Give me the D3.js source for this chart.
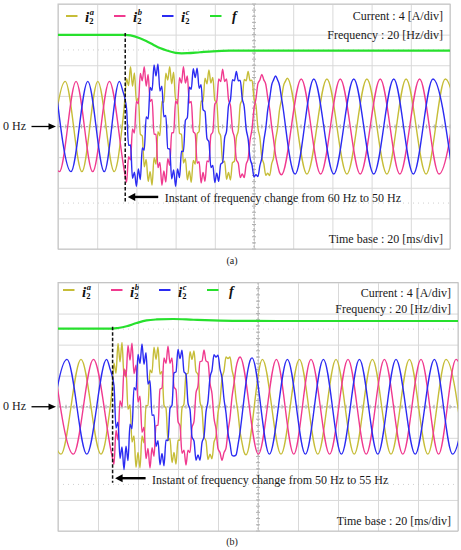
<!DOCTYPE html>
<html><head><meta charset="utf-8">
<script src="https://cdn.jsdelivr.net/npm/d3@7"></script>
<style>body{margin:0;background:#fff}svg{display:block}</style>
</head><body>
<svg id="c" width="461" height="550"></svg>
<script>
// ---------- DATA ----------
const timeTicks = [0,20,40,60,80,100,120,140,160,180,200];      // ms, 20 ms/div
const currentTicks = [-16,-12,-8,-4,0,4,8,12,16];                // A, 4 A/div
const freqTicks = [-80,-60,-40,-20,0,20,40,60,80];               // Hz, 20 Hz/div
const seriesKeys = ["a","b","c"];
const seriesColors = {a:"#c6bd38", b:"#f03a8f", c:"#2b2bf2", f:"#27e02d"};
const burstStep = 1; // ms between samples of the disturbed (noisy) part

// ---- Panel (a) : currents [ms, A] ----
const panelA_ia_pre  = [[-4.6,-5.9],[3.7,5.9],[12.2,-5.9],[20.3,5.9],[28.7,-5.9],[30.4,-4.6],[32.1,-1.4],[33.8,2.6]];
const panelA_ia_burstStart = 35;
const panelA_ia_burst = [6.25,5.35,7.8,5.27,6.99,3.26,3.74,-1.0,-1.24,-5.26,-4.29,-7.17,-5.9,-7.66,-4.07,-4.92,-0.67,-1.2,3.27,3.12,
 6.97,6.06,7.8,5.57,7.09,3.46,3.54,-0.9,-1.04,-4.76,-4.19,-6.97,-5.8,-7.28,-4.42,-4.92,-0.94,-0.65,3.34,3.22,
 6.32,5.58,7.4,5.68,6.42,3.42,3.14,-0.65,-1.24,-4.72,-4.52,-6.88,-6.0,-6.98,-4.73,-4.54,-1.48,-0.5,2.88,3.54,
 6.13,5.98,7.2,5.98,6.05,3.68,2.75,-0.2,-1.45,-4.08,-4.85,-6.38,-6.1,-6.4,-4.89,-4.03,-1.77,-0.25,2.12,3.48,
 5.24,5.9,6.3];
const panelA_ia_post = [[127,-6.2],[137.2,6.2],[147.4,-6.2],[157.6,6.2],[167.8,-6.2],[177.6,6.2],[187.8,-6.2],[197.6,6.2],[207.6,-6.2]];

const panelA_ib_pre  = [[-7.6,5.9],[0.7,-5.9],[9.2,5.9],[17.7,-5.9],[26.2,5.9],[34.2,-6.3]];
const panelA_ib_burstStart = 35;
const panelA_ib_burst = [-7.28,-3.94,-4.36,-0.31,-0.85,3.31,2.96,6.94,5.98,7.8,5.27,6.79,3.26,3.54,-1.0,-1.04,-5.36,-4.69,-7.67,-5.8,
 -7.27,-4.19,-5.06,-0.84,-0.8,3.34,2.96,6.39,5.67,7.8,5.67,6.6,3.08,3.27,-0.65,-0.97,-4.78,-4.6,-7.37,-6.0,
 -7.17,-4.51,-4.6,-1.11,-0.7,2.91,3.3,6.21,5.87,7.5,5.88,6.22,3.52,2.74,-0.45,-1.44,-4.32,-4.82,-6.68,-6.2,
 -6.68,-4.95,-4.23,-1.75,-0.3,2.35,3.63,5.6,6.08,6.8,6.09,5.52,3.79,2.25,0.05,-1.75,-3.74,-4.97,-5.99,-6.3];
const panelA_ib_post = [[124.1,6.2],[134,-6.2],[144,6.2],[154.2,-6.2],[164.4,6.2],[174.4,-6.2],[184.5,6.2],[194.4,-6.2],[204.4,6.2]];

const panelA_ic_pre  = [[-1.5,5.9],[6.6,-5.9],[15.2,5.9],[23.6,-5.9],[31.3,5.9],[33.0,4.69]];
const panelA_ic_burstStart = 35;
const panelA_ic_burst = [2.28,-2.47,-2.42,-6.76,-5.98,-7.8,-5.55,-6.92,-2.81,-3.1,1.25,1.0,5.11,4.72,8.05,6.6,8.16,4.64,5.25,1.27,
 1.45,-2.87,-2.95,-6.84,-5.66,-7.8,-5.56,-6.67,-3.22,-3.27,0.8,1.17,5.12,4.87,7.56,6.4,7.62,5.0,5.45,2.2,
 1.97,-1.57,-2.0,-5.35,-5.1,-7.32,-6.1,-7.17,-4.91,-4.7,-1.51,-0.6,2.71,3.5,6.11,5.97,7.2,5.98,6.03,3.64,
 2.58,-0.3,-1.63,-4.14,-5.03,-6.58,-6.3,-6.54,-5.11,-4.1,-1.88,-0.25,2.13,3.65,5.41,6.09,6.6,6.1,5.39,3.78,
 2.12,0.15,-1.82,-3.58,-4.99,-5.9,-6.2];
const panelA_ic_post = [[130.5,6.2],[140.7,-6.2],[150.9,6.2],[161.1,-6.2],[171.3,6.2],[181.3,-6.2],[191.3,6.2],[201.3,-6.2]];

// ---- Panel (a) : measured frequency [ms, Hz] ----
const panelA_f = [[0,59.8],[34.3,59.8],[37,59.5],[41.8,57.6],[45,55.8],[48.6,53.4],[52,51.2],[55.5,49.6],[60,48.1],[63,47.8],
 [66,47.9],[72.4,48.5],[79,49.1],[87.8,49.5],[100,49.6],[200,49.6]];
const panelA_change = 34.3;   // ms
const panelA_caption = "Instant of frequency change from 60 Hz to 50 Hz";

// ---- Panel (b) : currents [ms, A] ----
const panelB_ia_pre  = [[-8.5,6.1],[1.5,-6.1],[11.5,6.1],[21.5,-6.1],[23.4,-4.86],[25.2,-1.78],[27,2.09]];
const panelB_ia_burstStart = 28;
const panelB_ia_burst = [5.61,4.31,8.15,5.8,8.28,3.97,4.73,-0.34,0.24,-4.53,-3.77,-7.78,-5.9,-7.88,-3.77,-4.63,0.14,0.16,4.73,4.37,
 7.68,6.1,7.69,4.19,4.55,0.2,-0.2,-4.35,-4.09,-7.19,-5.9,-7.39,-4.31,-4.3,-0.18,0.38,4.2,4.31,7.09,6.1,
 7.2,4.53,4.15,0.67,-0.37,-3.85,-4.43,-6.8,-6.1,-6.71,-4.57,-3.78,-0.79,0.69,3.63,4.62,6.41,6.2,6.42,4.76,
 3.53,1.05,-0.75,-3.18,-4.61,-5.82,-6.2];
const panelB_ia_post = [[102.2,6.1],[111.5,-6.1],[120.7,6.1],[129.9,-6.1],[139,6.1],[148.1,-6.1],[157.2,6.1],[166.5,-6.1],[175.7,6.1],[184.9,-6.1],[194,6.1],[203.1,-6.1]];

const panelB_ib_pre  = [[-2.3,6.1],[7.7,-6.1],[17.7,6.1],[27,-6.3]];
const panelB_ib_burstStart = 28;
const panelB_ib_burst = [-7.4,-3.04,-4.27,0.79,0.01,4.88,3.84,7.9,6.0,8.17,4.28,5.34,0.6,1.35,-3.3,-2.64,-6.68,-5.37,-7.9,-5.28,
 -6.37,-2.43,-2.36,2.26,2.43,6.27,5.58,7.8,5.59,6.29,2.55,2.2,-1.9,-2.45,-5.99,-5.59,-7.5,-5.59,-5.91,-2.7,
 -1.88,1.78,2.7,5.81,5.89,7.3,5.9,5.73,3.0,1.67,-1.47,-2.85,-5.38,-5.9,-6.9,-5.91,-5.33,-3.15,-1.43,1.23,
 3.0,4.98,6.01,6.4];
const panelB_ib_post = [[100.2,-6.1],[109.2,6.1],[117.9,-6.1],[126.5,6.1],[135.8,-6.1],[145,6.1],[154.1,-6.1],[163.2,6.1],[172.4,-6.1],[181.5,6.1],[190.3,-6.1],[199,6.1],[208,-6.1]];

const panelB_ic_pre  = [[-5.4,-6.1],[4.5,6.1],[14.4,-6.1],[24.3,6.1],[26.0,4.9]];
const panelB_ic_burstStart = 28;
const panelB_ic_burst = [2.74,-2.73,-1.99,-6.65,-5.18,-8.1,-5.07,-6.94,-2.25,-2.84,2.44,2.15,6.74,5.57,8.1,5.46,6.97,2.92,3.37,-1.1,
 -1.07,-5.12,-4.37,-7.46,-6.0,-7.59,-4.29,-4.35,-0.2,0.2,4.35,4.49,7.39,6.2,7.29,4.51,4.2,0.48,-0.38,-3.9,
 -4.41,-6.89,-6.2,-6.9,-4.63,-3.85,-0.67,0.72,3.75,4.73,6.7,6.4,6.65,4.86,3.7,1.0,-0.8,-3.4,-4.76,-6.25,
 -6.35,-6.22,-4.9,-3.3,-1.21,1.01,3.1,4.8,5.92,6.3];
const panelB_ic_post = [[105.7,-6.1],[114.7,6.1],[123.7,-6.1],[132.7,6.1],[141.7,-6.1],[150.7,6.1],[159.9,-6.1],[169,6.1],[178.6,-6.1],[188.2,6.1],[197.3,-6.1],[206.4,6.1]];

// ---- Panel (b) : measured frequency [ms, Hz] ----
const panelB_f = [[0,50.3],[27.3,50.3],[30,50.7],[34.3,51.8],[39.3,53.9],[44.3,55.6],[49.3,56.2],[57.7,56.5],[67.7,56.0],
 [77.5,55.6],[90,55.3],[110,55.2],[200,55.2]];
const panelB_change = 27.3;
const panelB_caption = "Instant of frequency change from 50 Hz to 55 Hz";

const scaleTexts = ["Current : 4 [A/div]", "Frequency : 20 [Hz/div]", "Time base : 20 [ms/div]"];
const zeroLabel = "0 Hz";
const markerBottom = -9.8, arrowLevel = -9.2;   // A (graticule level of the marker arrow)

// assemble a trace: steady points + 1 ms burst samples + steady points
function trace(pre, start, burst, post){
  return pre.concat(burst.map((v,i)=>[start+i*burstStep, v]), post);
}

// ---------- LAYOUT ----------
const FONT = "'Liberation Serif','Times New Roman',serif";
const svg = d3.select("#c");

const panels = [
 {id:"pa", left:58, top:4, width:392, height:245, label:"(a)", labelY:263.5,
  cur:[["a",trace(panelA_ia_pre,panelA_ia_burstStart,panelA_ia_burst,panelA_ia_post)],
       ["b",trace(panelA_ib_pre,panelA_ib_burstStart,panelA_ib_burst,panelA_ib_post)],
       ["c",trace(panelA_ic_pre,panelA_ic_burstStart,panelA_ic_burst,panelA_ic_post)]],
  f:panelA_f, change:panelA_change, caption:panelA_caption,
  legendX:66, legendLineY:16, legendTextY:21.5, t1Y:19.5, t2Y:39.3, tbY:243.3},
 {id:"pb", left:58, top:282.5, width:400, height:248.5, label:"(b)", labelY:545,
  cur:[["a",trace(panelB_ia_pre,panelB_ia_burstStart,panelB_ia_burst,panelB_ia_post)],
       ["b",trace(panelB_ib_pre,panelB_ib_burstStart,panelB_ib_burst,panelB_ib_post)],
       ["c",trace(panelB_ic_pre,panelB_ic_burstStart,panelB_ic_burst,panelB_ic_post)]],
  f:panelB_f, change:panelB_change, caption:panelB_caption,
  legendX:63, legendLineY:290, legendTextY:297, t1Y:296.7, t2Y:312.8, tbY:525}
];

function drawPanel(P){
  const g = svg.append("g");
  const x = d3.scaleLinear().domain([timeTicks[0], timeTicks[timeTicks.length-1]]).range([P.left, P.left+P.width]);
  const yI = d3.scaleLinear().domain([currentTicks[0], currentTicks[currentTicks.length-1]]).range([P.top+P.height, P.top]);
  const yF = d3.scaleLinear().domain([freqTicks[0], freqTicks[freqTicks.length-1]]).range([P.top+P.height, P.top]);

  // grid
  g.append("g").attr("transform",`translate(0,${P.top})`)
    .call(d3.axisBottom(x).tickValues(timeTicks).tickSize(P.height).tickFormat(""))
    .call(s=>{s.select(".domain").remove(); s.selectAll("line").attr("stroke","#d9d9d9");});
  g.append("g").attr("transform",`translate(${P.left},0)`)
    .call(d3.axisRight(yI).tickValues(currentTicks).tickSize(P.width).tickFormat(""))
    .call(s=>{s.select(".domain").remove(); s.selectAll("line").attr("stroke","#d9d9d9");});
  [-10,10].forEach(v=>g.append("line").attr("x1",P.left).attr("x2",P.left+P.width)
     .attr("y1",yI(v)).attr("y2",yI(v)).attr("stroke","#cfcfcf").attr("stroke-dasharray","1,4"));
  const xc = x(100), yc = yI(0);
  g.append("line").attr("x1",xc).attr("x2",xc).attr("y1",P.top).attr("y2",P.top+P.height)
    .attr("stroke","#a8a8a8").attr("stroke-dasharray","2,1.5");
  g.append("line").attr("x1",P.left).attr("x2",P.left+P.width).attr("y1",yc).attr("y2",yc)
    .attr("stroke","#a8a8a8").attr("stroke-dasharray","2,1.5");
  d3.range(0,200.1,4).forEach(t=>g.append("line").attr("x1",x(t)).attr("x2",x(t)).attr("y1",yc-2).attr("y2",yc+2).attr("stroke","#b0b0b0"));
  d3.range(-16,16.1,0.8).forEach(v=>g.append("line").attr("x1",xc-2).attr("x2",xc+2).attr("y1",yI(v)).attr("y2",yI(v)).attr("stroke","#b0b0b0"));
  g.append("rect").attr("x",P.left).attr("y",P.top).attr("width",P.width).attr("height",P.height)
    .attr("fill","none").attr("stroke","#c4c4c4");

  svg.append("clipPath").attr("id","clip-"+P.id).append("rect")
    .attr("x",P.left).attr("y",P.top).attr("width",P.width).attr("height",P.height);
  const plot = g.append("g").attr("clip-path",`url(#clip-${P.id})`);
  const lineI = d3.line().x(d=>x(d[0])).y(d=>yI(d[1])).curve(d3.curveMonotoneX);
  P.cur.forEach(([k,data])=>plot.append("path").datum(data).attr("d",lineI)
     .attr("fill","none").attr("stroke",seriesColors[k]).attr("stroke-width",1.4).attr("stroke-linejoin","round"));
  const lineF = d3.line().x(d=>x(d[0])).y(d=>yF(d[1])).curve(d3.curveMonotoneX);
  plot.append("path").datum(P.f).attr("d",lineF).attr("fill","none")
     .attr("stroke",seriesColors.f).attr("stroke-width",2.2);

  // change marker
  const xm = x(P.change);
  g.append("line").attr("x1",xm).attr("x2",xm).attr("y1",yF(P.f[0][1])-2).attr("y2",yI(markerBottom))
    .attr("stroke","#111").attr("stroke-width",1.5).attr("stroke-dasharray","3.5,2");
  const ya = yI(arrowLevel);
  g.append("line").attr("x1",xm+8).attr("x2",xm+33).attr("y1",ya).attr("y2",ya).attr("stroke","#000").attr("stroke-width",2.4);
  g.append("path").attr("d",`M${xm+2.5},${ya}L${xm+10},${ya-4}L${xm+10},${ya+4}Z`).attr("fill","#000");
  g.append("text").attr("x",xm+39.5).attr("y",ya+5.5).text(P.caption)
    .attr("font-family",FONT).attr("font-size",12).attr("fill","#1a1a1a");

  // 0 Hz arrow
  g.append("text").attr("x",3).attr("y",yc+3.5).text(zeroLabel).attr("font-family",FONT).attr("font-size",12).attr("fill","#1a1a1a");
  g.append("line").attr("x1",31.5).attr("x2",50).attr("y1",yc).attr("y2",yc).attr("stroke","#000").attr("stroke-width",1.3);
  g.append("path").attr("d",`M${56},${yc}L${48.5},${yc-3.2}L${48.5},${yc+3.2}Z`).attr("fill","#000");

  // scale texts
  const xr = P.left+P.width-7;
  [[scaleTexts[0],P.t1Y],[scaleTexts[1],P.t2Y],[scaleTexts[2],P.tbY]].forEach(([s,yy])=>
    g.append("text").attr("x",xr).attr("y",yy).attr("text-anchor","end").text(s)
     .attr("font-family",FONT).attr("font-size",12).attr("fill","#1a1a1a"));

  // legend
  const step = 48;
  seriesKeys.concat(["f"]).forEach((k,i)=>{
    const lx = P.legendX + i*step;
    g.append("line").attr("x1",lx).attr("x2",lx+11.5).attr("y1",P.legendLineY).attr("y2",P.legendLineY)
      .attr("stroke",seriesColors[k]).attr("stroke-width",2);
    const tx = lx+19;
    if(k==="f"){
      g.append("text").attr("x",tx+3).attr("y",P.legendTextY-1).text("f").attr("font-family",FONT)
       .attr("font-style","italic").attr("font-size",14).attr("font-weight","bold").attr("fill","#111");
    } else {
      g.append("text").attr("x",tx).attr("y",P.legendTextY).text("i").attr("font-family",FONT)
       .attr("font-style","italic").attr("font-size",15).attr("font-weight","bold").attr("fill","#111");
      g.append("text").attr("x",tx+4.8).attr("y",P.legendTextY-7).text(k).attr("font-family",FONT)
       .attr("font-style","italic").attr("font-size",8.5).attr("font-weight","bold").attr("fill","#111");
      g.append("text").attr("x",tx+4.3).attr("y",P.legendTextY+2).text("2").attr("font-family",FONT)
       .attr("font-size",8.5).attr("font-weight","bold").attr("fill","#111");
    }
  });

  svg.append("text").attr("x",232).attr("y",P.labelY).attr("text-anchor","middle").text(P.label)
    .attr("font-family",FONT).attr("font-size",10).attr("fill","#1a1a1a");
}
panels.forEach(drawPanel);
</script>
</body></html>
